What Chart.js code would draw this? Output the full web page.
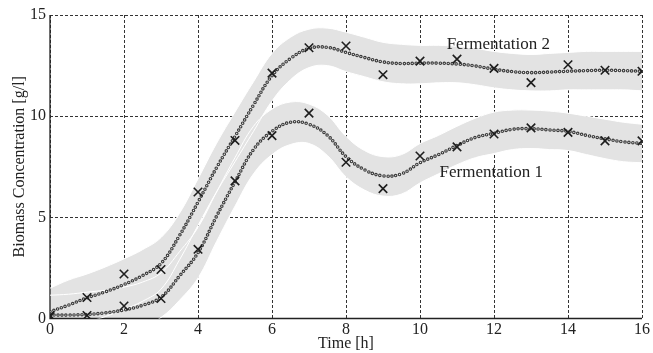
<!DOCTYPE html>
<html>
<head>
<meta charset="utf-8">
<script src="https://cdn.jsdelivr.net/npm/chart.js@4.4.1/dist/chart.umd.min.js"></script>
<style>
  html, body { margin: 0; padding: 0; background: #fff; }
  #wrap { width: 653px; height: 353px; }
</style>
</head>
<body>
<div id="wrap"><canvas id="chart"></canvas></div>
<script>
// measured samples (x markers), one per hour
const hours = [0, 1, 2, 3, 4, 5, 6, 7, 8, 9, 10, 11, 12, 13, 14, 15, 16];
const ferm1 = [0.1, 0.15, 0.62, 0.99, 3.42, 6.8, 9.04, 10.15, 7.72, 6.42, 8.03, 8.48, 9.12, 9.42, 9.2, 8.78, 8.78];
const ferm2 = [0.15, 1.04, 2.2, 2.42, 6.25, 8.8, 12.13, 13.38, 13.47, 12.05, 12.72, 12.82, 12.36, 11.66, 12.54, 12.27, 12.22];

// fitted curves and confidence bands, read every half hour
const fitTimes = [0, 0.5, 1, 1.5, 2, 2.5, 3, 3.5, 4, 4.5, 5, 5.5, 6, 6.5, 7, 7.5, 8,
                  8.5, 9, 9.5, 10, 10.5, 11, 11.5, 12, 12.5, 13, 13.5, 14, 14.5, 15, 15.5, 16];
const fit1 = [0.17, 0.17, 0.2, 0.28, 0.42, 0.65, 1.05, 2.1, 3.25, 5.05, 6.75, 8.35, 9.25, 9.7, 9.6, 9.05, 8.0,
              7.35, 7.05, 7.15, 7.7, 8.1, 8.55, 8.95, 9.15, 9.35, 9.38, 9.32, 9.25, 9.05, 8.88, 8.73, 8.66];
const fit2 = [0.34, 0.66, 1.02, 1.32, 1.68, 2.12, 2.72, 4.1, 5.75, 7.45, 9.0, 10.55, 12.0, 12.85, 13.35, 13.4, 13.15,
              12.9, 12.68, 12.6, 12.62, 12.62, 12.58, 12.48, 12.32, 12.2, 12.15, 12.18, 12.22, 12.25, 12.27, 12.25, 12.22];
const band1Up = [1.15, 1.2, 1.3, 1.4, 1.55, 1.8, 2.25, 3.3, 4.5, 6.25, 7.95, 9.5, 10.35, 10.7, 10.6, 10.05, 9.0,
                 8.3, 8.0, 8.1, 8.65, 9.05, 9.5, 9.9, 10.2, 10.3, 10.3, 10.25, 10.15, 10.0, 9.85, 9.7, 9.6];
const band1Lo = [-0.8, -0.8, -0.8, -0.75, -0.6, -0.4, 0.05, 0.9, 2.0, 3.8, 5.55, 7.15, 8.1, 8.6, 8.65, 8.05, 7.0,
                 6.35, 6.05, 6.15, 6.7, 7.15, 7.6, 7.95, 8.15, 8.35, 8.4, 8.35, 8.3, 8.1, 7.9, 7.75, 7.7];
const band2Up = [1.5, 1.9, 2.2, 2.55, 2.95, 3.4, 4.0, 5.2, 6.9, 8.65, 10.2, 11.7, 13.1, 13.9, 14.3, 14.35, 14.15,
                 13.9, 13.65, 13.55, 13.5, 13.5, 13.45, 13.35, 13.2, 13.1, 13.05, 13.1, 13.15, 13.2, 13.2, 13.2, 13.2];
const band2Lo = [-0.85, -0.55, -0.2, 0.1, 0.45, 0.85, 1.45, 2.9, 4.6, 6.25, 7.75, 9.25, 10.75, 11.8, 12.4, 12.5, 12.2,
                 11.95, 11.7, 11.6, 11.6, 11.65, 11.65, 11.55, 11.4, 11.3, 11.25, 11.25, 11.3, 11.3, 11.3, 11.3, 11.25];

const xTicks = [0, 2, 4, 6, 8, 10, 12, 14, 16];
const yTicks = [0, 5, 10, 15];

function pts(xs, ys) {
    return xs.map((x, i) => ({ x: x, y: ys[i] }));
}

const FONT = '"Liberation Serif", "DejaVu Serif", serif';
const GREY = '#e3e3e3';

function bandEdge(data, fill) {
    return {
        data: data,
        borderColor: '#ffffff',
        borderWidth: 1,
        backgroundColor: GREY,
        fill: fill,
        pointRadius: 0,
        tension: 0.4,
        order: 5
    };
}

// dotted "ring" curve: dark dots with a pale core drawn on top
function ringCurve(data, width, color, order) {
    return {
        data: data,
        borderColor: color,
        borderWidth: width,
        borderDash: [0, 4],
        borderCapStyle: 'round',
        fill: false,
        pointRadius: 0,
        tension: 0.4,
        order: order
    };
}

function markers(data) {
    return {
        data: data,
        showLine: false,
        pointStyle: 'crossRot',
        pointRadius: 6,
        pointBorderWidth: 1.6,
        pointBorderColor: '#1e1e1e',
        order: 1
    };
}

// solid left/bottom axis lines plus the two curve names
const decorations = {
    id: 'decorations',
    beforeDatasetsDraw(chart) {
        const { ctx, chartArea: a } = chart;
        ctx.save();
        ctx.strokeStyle = '#222';
        ctx.lineWidth = 1.3;
        ctx.setLineDash([]);
        ctx.beginPath();
        ctx.moveTo(a.left, a.top);
        ctx.lineTo(a.left, a.bottom);
        ctx.lineTo(a.right, a.bottom);
        ctx.stroke();
        ctx.restore();
    },
    afterDatasetsDraw(chart) {
        const { ctx, scales: { x, y } } = chart;
        ctx.save();
        ctx.font = '17px ' + FONT;
        ctx.fillStyle = '#222';
        ctx.textBaseline = 'middle';
        ctx.textAlign = 'left';
        ctx.fillText('Fermentation 2', x.getPixelForValue(10.72), y.getPixelForValue(13.56));
        ctx.fillText('Fermentation 1', x.getPixelForValue(10.53), y.getPixelForValue(7.23));
        ctx.restore();
    }
};

Chart.defaults.font.family = FONT;
Chart.defaults.font.size = 16;
Chart.defaults.color = '#222';

new Chart(document.getElementById('chart'), {
    type: 'line',
    data: {
        datasets: [
            bandEdge(pts(fitTimes, band2Up), '+1'),
            bandEdge(pts(fitTimes, band2Lo), false),
            bandEdge(pts(fitTimes, band1Up), '+1'),
            bandEdge(pts(fitTimes, band1Lo), false),
            ringCurve(pts(fitTimes, fit2), 3.6, '#3c3c3c', 4),
            ringCurve(pts(fitTimes, fit2), 1.3, '#ececec', 3),
            ringCurve(pts(fitTimes, fit1), 3.6, '#3c3c3c', 4),
            ringCurve(pts(fitTimes, fit1), 1.3, '#ececec', 3),
            markers(pts(hours, ferm2)),
            markers(pts(hours, ferm1))
        ]
    },
    options: {
        responsive: true,
        maintainAspectRatio: false,
        animation: false,
        layout: { padding: { top: 15, right: 11, left: 0, bottom: 0 } },
        plugins: {
            legend: { display: false },
            tooltip: { enabled: false },
            filler: { drawTime: 'beforeDatasetsDraw' }
        },
        scales: {
            x: {
                type: 'linear',
                min: 0,
                max: 16,
                afterBuildTicks: s => { s.ticks = xTicks.map(v => ({ value: v })); },
                afterFit: s => { s.height = 34.5; },
                ticks: { padding: 2, maxRotation: 0, font: { size: 16 } },
                grid: { color: '#333', lineWidth: 1, drawTicks: false, tickLength: 0 },
                border: { display: false, dash: [3, 2] },
                title: { display: true, text: 'Time [h]', padding: { top: 0, bottom: 0 }, font: { size: 16 } }
            },
            y: {
                min: 0,
                max: 15,
                afterBuildTicks: s => { s.ticks = yTicks.map(v => ({ value: v })); },
                afterFit: s => { s.width = 50; },
                ticks: { padding: 4, font: { size: 16 } },
                grid: { color: '#333', lineWidth: 1, drawTicks: false, tickLength: 0 },
                border: { display: false, dash: [3, 2] },
                title: { display: true, text: 'Biomass Concentration [g/l]', padding: { top: 10, bottom: 0 }, font: { size: 16 } }
            }
        }
    },
    plugins: [decorations]
});
</script>
</body>
</html>
